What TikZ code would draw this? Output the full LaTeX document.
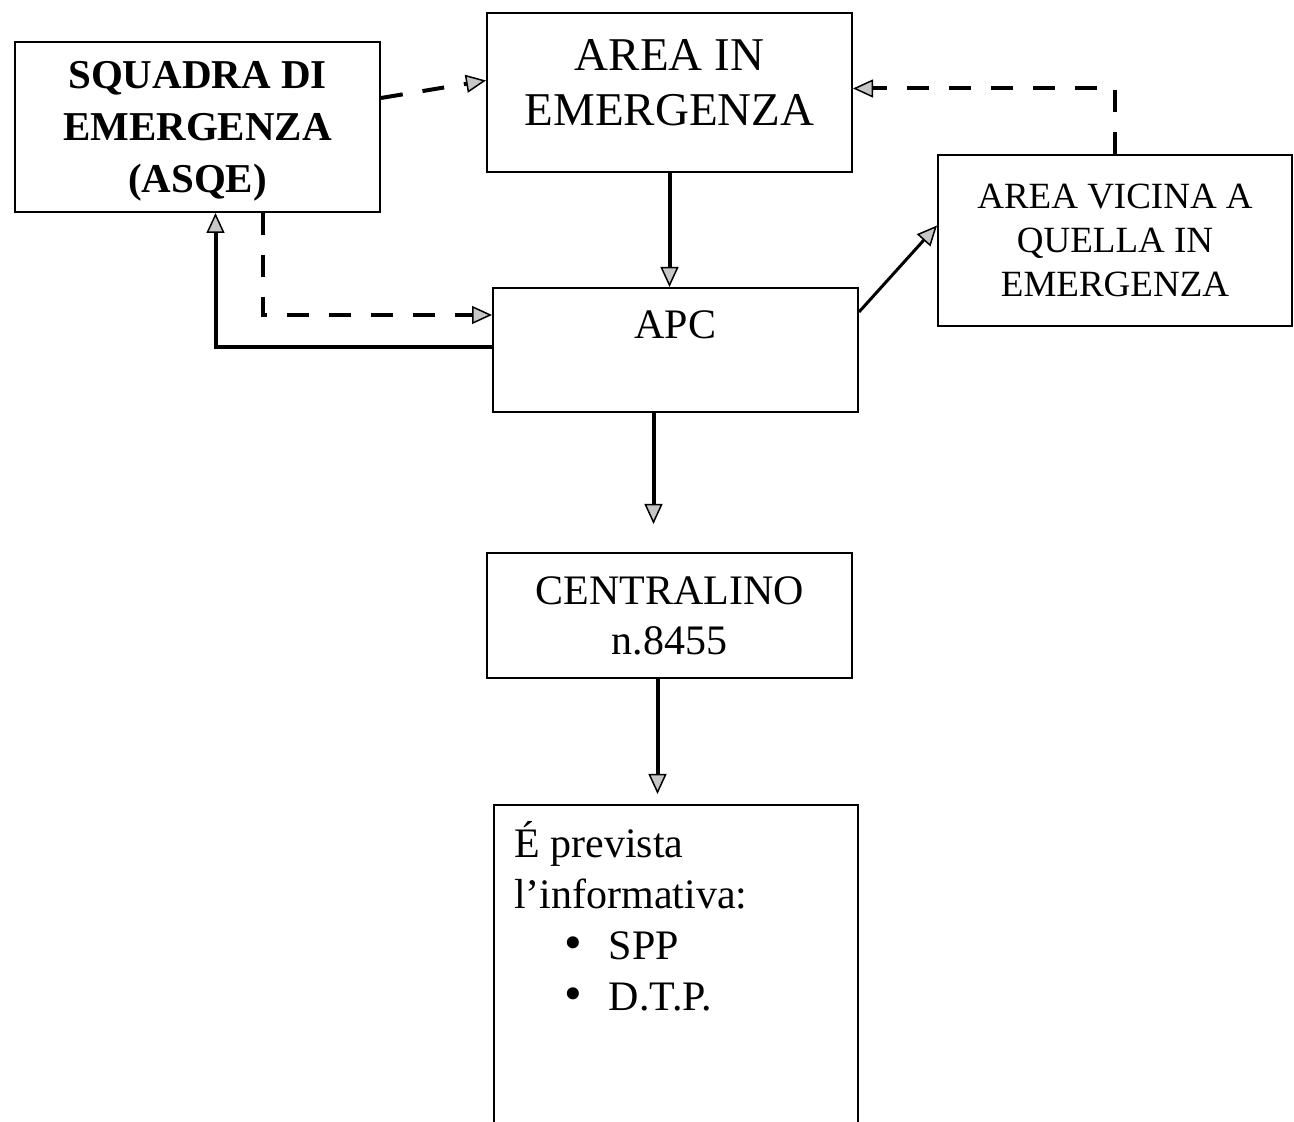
\documentclass[tikz,border=0pt]{standalone}
\usepackage{fontspec}
\setmainfont{Liberation Serif}
\usetikzlibrary{arrows.meta, positioning}
\newlength{\w}
\setlength{\w}{365pt}
\definecolor{tipcolor}{gray}{0.78}
\tikzset{box/.style={draw=black, line width=2pt, fill=white, minimum width=\w, align=center, inner sep=0pt}}
\tikzset{solidarrow/.style={line width=4pt, -{Triangle[fill=tipcolor, length=20pt, width=18pt, line width=1.5pt]}}}
\tikzset{dasharrow/.style={solidarrow, dash pattern=on 22pt off 20pt}}
\newcommand{\bigbullet}{\smash{\scalebox{1.2}{\textbullet}}}

\begin{document}
\begin{tikzpicture}[x=1pt, y=1pt]
	\useasboundingbox (0,0) rectangle (1294,1122);
	\clip (0,0) rectangle (1294,1122);
	
	%%% NODES %%%
	
	% TOP ROW
	\node[box, minimum height=170pt, text depth=-10pt, font=\bfseries\fontsize{41}{52}\selectfont] at (197.5,995) (squadra) {SQUADRA DI\\EMERGENZA\\(ASQE)};
	\node[box, minimum height=159pt, text depth=20pt, font=\fontsize{47}{55}\selectfont] at (669.5,1029.5) (area) {AREA IN\\EMERGENZA};
	\node[box, minimum width=354pt, minimum height=171pt, font=\fontsize{37}{44}\selectfont] at (1115,881.5) (vicina) {AREA VICINA A\\QUELLA IN\\EMERGENZA};
	
	% MIDDLE
	\node[box, minimum height=124pt, text depth=50pt, font=\fontsize{42}{50}\selectfont] at (675.5,772) (apc) {APC};
	\node[box, minimum height=125pt, font=\fontsize{42}{50}\selectfont] at (669.5,506.5) (centralino) {CENTRALINO\\n.8455};
	
	% BOTTOM
	\node[box, minimum width=364pt, minimum height=340pt] at (676,147) (info) {};
	\node[anchor=north west, align=left, inner sep=0pt, font=\fontsize{42}{51}\selectfont] at ([xshift=21pt,yshift=-17pt]info.north west) (infotext) {É prevista\\l’informativa:\\\hspace*{50pt}\bigbullet\hspace{27pt}SPP\\\hspace*{50pt}\bigbullet\hspace{27pt}D.T.P.};
	
	%%% ARROWS %%%
	
	% DASHED
	\draw[dasharrow] ([yshift=29pt]squadra.east) -- ([yshift=12pt]area.west);
	\draw[dasharrow] (vicina.north) |- ([yshift=4pt]area.east);
	\draw[dasharrow] ([xshift=65pt]squadra.south) |- ([yshift=35pt]apc.west);
	
	% SOLID
	\draw[solidarrow] (area.south) -- (area.south |- apc.north);
	\draw[solidarrow] ([yshift=3pt]apc.west) -| ([xshift=18pt]squadra.south);
	\draw[solidarrow, line width=3pt] ([yshift=38pt]apc.east) -- ([yshift=15pt]vicina.west);
	\draw[solidarrow, shorten >=28pt] ([xshift=-22pt]apc.south) -- ([xshift=-22pt]apc.south |- centralino.north);
	\draw[solidarrow, shorten >=10pt] ([xshift=-12pt]centralino.south) -- ([xshift=-12pt]centralino.south |- info.north);
	
\end{tikzpicture}
\end{document}
